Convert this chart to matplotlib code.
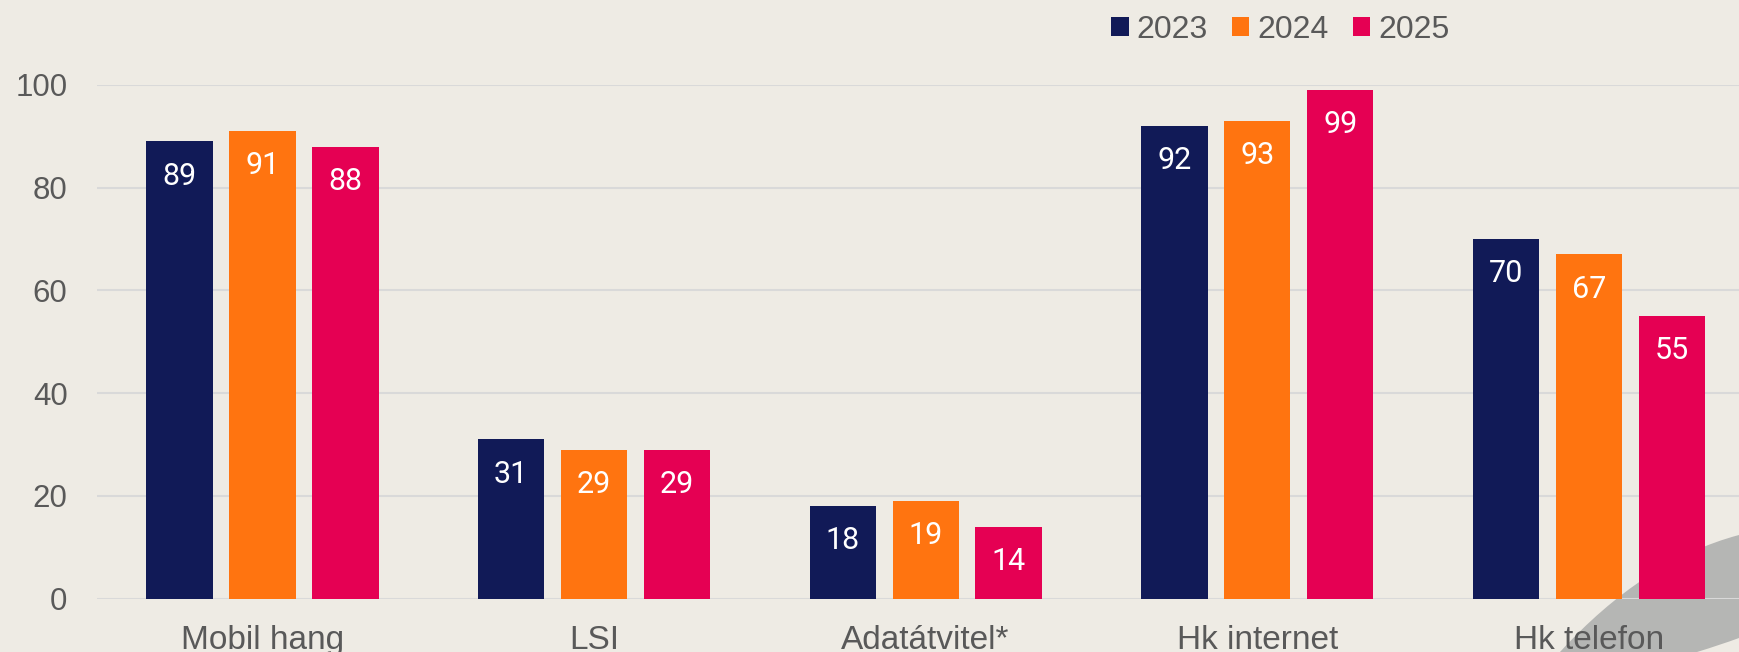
import matplotlib
matplotlib.use("Agg")
import matplotlib.pyplot as plt
import numpy as np
from matplotlib.patches import Patch, PathPatch
from matplotlib.path import Path

# ----------------------------------------
# DATA
# ----------------------------------------
categories = ["Mobil hang", "LSI", "Adatátvitel*", "Hk internet", "Hk telefon"]
years = ["2023", "2024", "2025"]
v2023 = [89, 31, 18, 92, 70]
v2024 = [91, 29, 19, 93, 67]
v2025 = [88, 29, 14, 99, 55]
yticks = [0, 20, 40, 60, 80, 100]

# ----------------------------------------
# STYLE
# ----------------------------------------
BG = "#EEEBE4"
GRID = "#D9D9D9"
TXT = "#595959"
COLORS = ["#111A57", "#FF7410", "#E50053"]

fig = plt.figure(figsize=(17.39, 6.52), dpi=100, facecolor=BG)

# decorative grey swoosh in the bottom right corner (figure pixels)
W, H = 1739.0, 652.0
def fp(x, y):
    return (x / W, 1 - y / H)

verts = [fp(1560, 652), fp(1615, 592), fp(1675, 552), fp(1739, 535),
         fp(1739, 638), fp(1720, 645), fp(1697, 652), fp(1560, 652)]
codes = [Path.MOVETO, Path.CURVE4, Path.CURVE4, Path.CURVE4,
         Path.LINETO, Path.CURVE3, Path.CURVE3, Path.CLOSEPOLY]
fig.patches.append(PathPatch(Path(verts, codes), transform=fig.transFigure,
                             facecolor="#B5B6B4", edgecolor="none", zorder=-5))

ax = fig.add_axes([96.7 / W, 53.5 / H, 1 - 96.7 / W, (598.5 - 85) / H])
ax.set_facecolor("none")

x = np.arange(len(categories))
width = 0.2
offsets = [-0.25, 0, 0.25]
series = [v2023, v2024, v2025]

for vals, off, col, yr in zip(series, offsets, COLORS, years):
    bars = ax.bar(x + off, vals, width, color=col, label=yr, zorder=3)
    for b, v in zip(bars, vals):
        ax.annotate(str(v), (b.get_x() + b.get_width() / 2, v),
                    xytext=(0, -25), textcoords="offset points",
                    ha="center", va="center", color="white",
                    fontsize=22, family="Roboto", zorder=4)

ax.set_xlim(-0.5, (1739 - 262) / 331.7)
ax.set_ylim(0, 100)
ax.set_yticks(yticks)
ax.set_xticks(x)
ax.set_xticklabels(categories)
ax.yaxis.grid(True, color=GRID, linewidth=1.5, zorder=0)
ax.set_axisbelow(True)
for s in ax.spines.values():
    s.set_visible(False)
ax.tick_params(axis="both", length=0, colors=TXT)
ax.tick_params(axis="y", labelsize=22.5, pad=21)
ax.tick_params(axis="x", labelsize=24, pad=19)
for lbl in ax.get_xticklabels() + ax.get_yticklabels():
    lbl.set_family("Liberation Sans")

handles = [Patch(facecolor=c, edgecolor="none") for c in COLORS]
leg = fig.legend(handles, years, loc="center left",
                 bbox_to_anchor=(1111 / W, 1 - 30 / H), ncol=3, frameon=False,
                 prop={"family": "Liberation Sans", "size": 23},
                 handlelength=0.55, handleheight=0.55, handletextpad=0.25,
                 columnspacing=0.75, borderpad=0, borderaxespad=0)
for t in leg.get_texts():
    t.set_color(TXT)

fig.savefig("out.png", dpi=100, facecolor=BG)
